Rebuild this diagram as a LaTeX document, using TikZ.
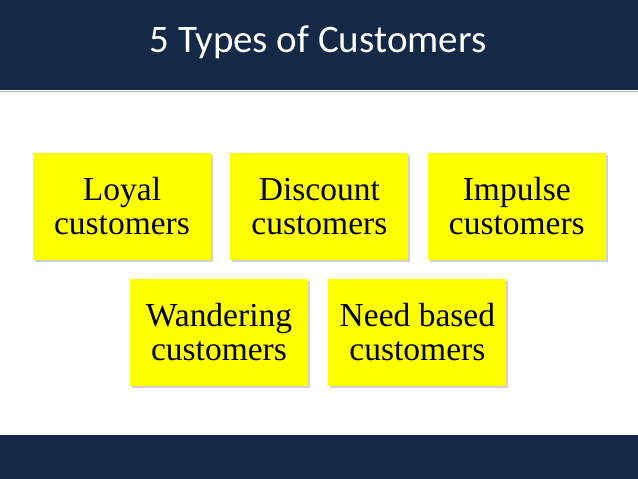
\documentclass[tikz,border=0pt]{standalone}
\usepackage{fontspec}
\setmainfont{Liberation Serif}
\newfontfamily\titlefont{Carlito}
\usetikzlibrary{positioning,shadows}
\definecolor{band}{RGB}{19,41,70}
\definecolor{boxy}{RGB}{255,255,0}
\tikzset{
	every node/.style = { align = center },
	kind/.style = { rectangle, fill=boxy, minimum width=178pt, minimum height=107pt, inner sep=0pt,
		font=\fontsize{33.5}{34}\selectfont, drop shadow={shadow xshift=2pt, shadow yshift=-2pt, fill=black!35} },
	head/.style = { text=white, font=\titlefont\fontsize{39}{42}\selectfont, anchor=west },
}
\begin{document}
\begin{tikzpicture}[x=1pt,y=-1pt]
\useasboundingbox (0,0) rectangle (638,479);
\fill[white] (0,0) rectangle (638,479);
\fill[band] (0,0) rectangle (638,90);
\fill[band] (0,435) rectangle (638,479);
\draw[black!30,line width=1pt] (0,91) -- (638,91);
\node (title) [head] at (146,42) {5 Types of Customers};

\node (loyal)    [kind] at (122,206.5) {Loyal\\customers};
\node (discount) [kind,right=19pt of loyal] {Discount\\customers};
\node (impulse)  [kind,right=19pt of discount] {Impulse\\customers};
\node (wander)   [kind] at (219,332.5) {Wandering\\customers};
\node (need)     [kind,right=20pt of wander] {Need based\\customers};
\end{tikzpicture}
\end{document}
